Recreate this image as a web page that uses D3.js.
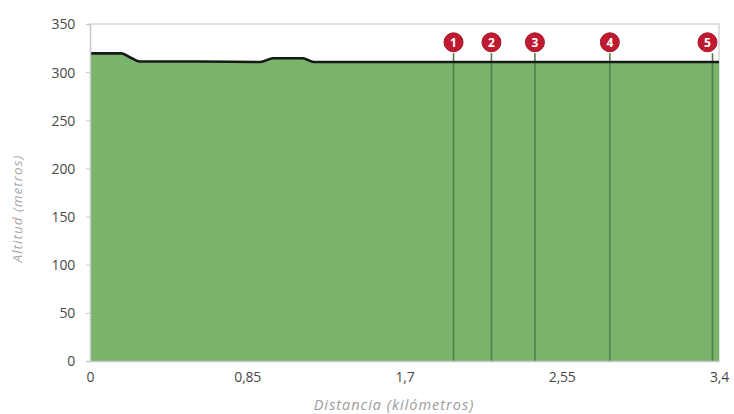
<!DOCTYPE html>
<html>
<head>
<meta charset="utf-8">
<script src="https://cdn.jsdelivr.net/npm/d3@7"></script>
<style>
  html, body { margin: 0; padding: 0; background: #fff; }
  svg { display: block; font-family: "Open Sans", Lato, sans-serif; }
</style>
</head>
<body>
<svg id="chart" width="734" height="414"></svg>
<script>
// Elevation profile: distance along the route (km) and altitude (m)
const distanceKm = [0, 0.17, 0.22, 0.27, 0.6, 0.92, 0.99, 1.15, 1.21, 1.6, 2.2, 2.8, 3.4];
const altitudeM  = [319.5, 319.5, 315, 311, 311, 310.5, 314.5, 314.5, 310.5, 310.5, 310.5, 310.5, 310.5];

// Numbered points of interest along the route (km)
const markerKm     = [1.965, 2.17, 2.405, 2.81, 3.365];
const markerLabels = ["1", "2", "3", "4", "5"];

// Axis ticks
const xTicks = [0, 0.85, 1.7, 2.55, 3.4];
const xTickLabels = ["0", "0,85", "1,7", "2,55", "3,4"];
const yTicks = [0, 50, 100, 150, 200, 250, 300, 350];

const margin = { left: 90, right: 15, top: 24, bottom: 53 };
const W = 734, H = 414;
const svg = d3.select("#chart");

const x = d3.scaleLinear().domain([0, 3.4]).range([margin.left, W - margin.right]);
const y = d3.scaleLinear().domain([0, 350]).range([H - margin.bottom, margin.top]);

const profile = distanceKm.map((d, i) => ({ d, a: altitudeM[i] }));

// Plot frame (top and right)
svg.append("path")
  .attr("d", `M${x(0)},${y(350)}H${x(3.4)}V${y(0)}`)
  .attr("fill", "none").attr("stroke", "#d6d6d6").attr("stroke-width", 1.5);

// Filled terrain
const area = d3.area().x(p => x(p.d)).y0(y(0)).y1(p => y(p.a)).curve(d3.curveMonotoneX);
svg.append("path").datum(profile)
  .attr("d", area)
  .attr("fill", "#79b36c");

// Vertical guides at each point of interest
const altAt = km => {
  const i = d3.bisector(p => p.d).left(distanceKm, km);
  return altitudeM[Math.min(i, altitudeM.length - 1)];
};
svg.append("g").selectAll("line").data(markerKm).join("line")
  .attr("x1", d => x(d)).attr("x2", d => x(d))
  .attr("y1", d => y(altAt(d))).attr("y2", y(0))
  .attr("stroke", "#52804b").attr("stroke-width", 1.6);

// Profile outline
const line = d3.line().x(p => x(p.d)).y(p => y(p.a)).curve(d3.curveMonotoneX);
svg.append("path").datum(profile)
  .attr("d", line)
  .attr("fill", "none").attr("stroke", "#161a14").attr("stroke-width", 2.6);

// Axes
const yAxis = svg.append("g")
  .attr("transform", `translate(${x(0)},0)`)
  .call(d3.axisLeft(y).tickValues(yTicks).tickSize(4).tickPadding(11));
const xAxis = svg.append("g")
  .attr("transform", `translate(0,${y(0)})`)
  .call(d3.axisBottom(x).tickValues(xTicks).tickFormat((d, i) => xTickLabels[i]).tickSize(0).tickPadding(11));

[yAxis, xAxis].forEach(g => {
  g.select(".domain").attr("stroke", "#c8c8c8").attr("stroke-width", 1.5);
  g.selectAll(".tick line").attr("stroke", "#c8c8c8");
  g.selectAll("text").attr("fill", "#4a4a4a").attr("font-size", 14)
    .attr("font-family", "'Open Sans', sans-serif").attr("letter-spacing", -0.2);
});
yAxis.selectAll("text").attr("dy", "0.35em");

// Numbered markers
const r = 9.5;
const mk = svg.append("g").selectAll("g").data(markerKm).join("g")
  .attr("transform", d => `translate(${Math.min(x(d), x(3.4) - r - 2)},${y(331)})`);
mk.append("circle").attr("r", r).attr("fill", "#c01a30").attr("stroke", "#a8142a").attr("stroke-width", 1);
mk.append("text")
  .text((d, i) => markerLabels[i])
  .attr("text-anchor", "middle").attr("dy", "0.36em")
  .attr("fill", "#fff").attr("font-size", 12).attr("font-weight", "bold");

// Axis titles
svg.append("text")
  .attr("transform", `translate(22,${(y(0) + y(350)) / 2 + 16}) rotate(-90)`)
  .attr("text-anchor", "middle")
  .attr("font-size", 13.5).attr("font-style", "italic").attr("fill", "#a8a8a8")
  .attr("letter-spacing", 1)
  .text("Altitud (metros)");
svg.append("text")
  .attr("x", 394).attr("y", 410)
  .attr("text-anchor", "middle")
  .attr("font-size", 14.5).attr("font-style", "italic").attr("fill", "#9c9c9c")
  .attr("letter-spacing", 1)
  .text("Distancia (kilómetros)");
</script>
</body>
</html>
